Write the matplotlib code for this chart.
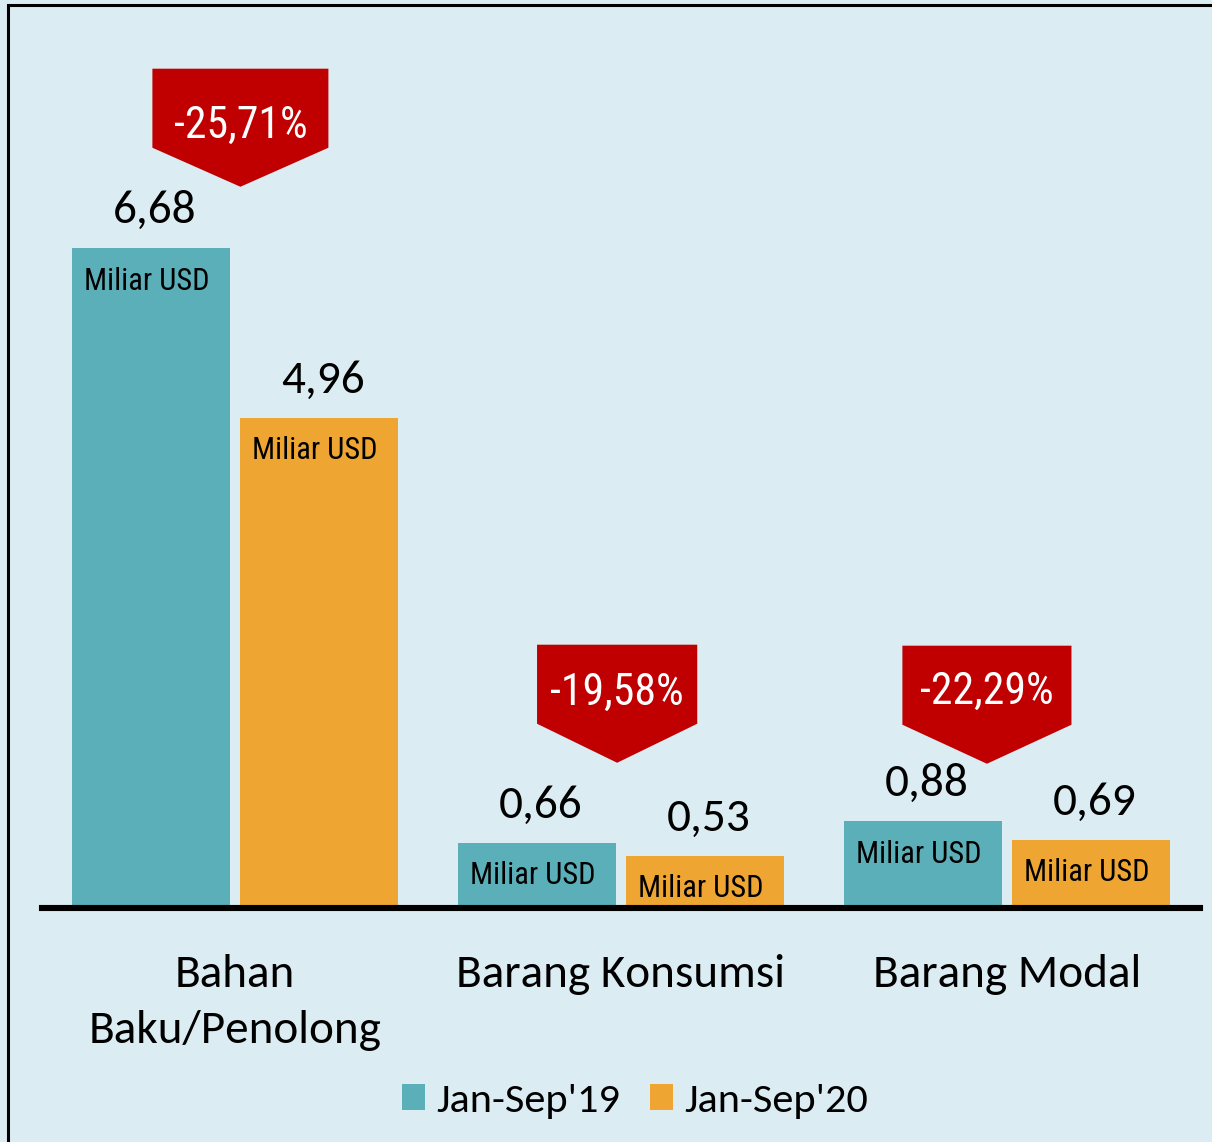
import matplotlib
matplotlib.use("Agg")
import matplotlib.pyplot as plt
from matplotlib.patches import Polygon, Rectangle, Patch

categories = ["Bahan\nBaku/Penolong", "Barang Konsumsi", "Barang Modal"]
series_names = ["Jan-Sep'19", "Jan-Sep'20"]
values_2019 = [6.68, 0.66, 0.88]
values_2020 = [4.96, 0.53, 0.69]
changes = ["-25,71%", "-19,58%", "-22,29%"]
unit_label = "Miliar USD"

# layout / style
BG = "#DBEDF3"
TEAL = "#5AAFB9"
ORANGE = "#EEA532"
RED = "#C00000"
W, H = 1212, 1142
DPI = 100
bar_w = 0.407
offset = 0.2176
callout_dx = [0.014, -0.010, -0.052]
callout_w = [0.456, 0.415, 0.438]
callout_tip = [7.30, 1.47, 1.46]
callout_text_dy = [0.70, 0.61, 0.59]
rect_h = 0.80
arrow_h = 0.395

CAL = ["Carlito", "DejaVu Sans"]
NARROW = ["Roboto Condensed", "DejaVu Sans"]

fig = plt.figure(figsize=(W / DPI, H / DPI), dpi=DPI)
fig.patch.set_facecolor(BG)
fig.patches.append(Rectangle((8 / W, -0.1), 1.2, 1 - 5 / H + 0.1, transform=fig.transFigure,
                             fill=False, edgecolor="black", linewidth=2.2, zorder=0))

ax = fig.add_axes([42 / W, (H - 908) / H, 1158 / W, (908 - 5) / H])
ax.set_facecolor("none")
ax.set_xlim(-0.5, 2.5)
ax.set_ylim(0, 903 / 98.8)
for s in ax.spines.values():
    s.set_visible(False)
ax.set_yticks([])

x = list(range(len(categories)))
xs1 = [i - offset for i in x]
xs2 = [i + offset for i in x]
ax.bar(xs1, values_2019, width=bar_w, color=TEAL, zorder=2)
ax.bar(xs2, values_2020, width=bar_w, color=ORANGE, zorder=2)
ax.axhline(0, color="black", linewidth=4.4, zorder=3, clip_on=False)

for xs, vals in ((xs1, values_2019), (xs2, values_2020)):
    for xi, v in zip(xs, vals):
        ax.text(xi + 0.01, v + 0.25, f"{v:.2f}".replace(".", ","), ha="center", va="baseline",
                fontsize=34, family=CAL, color="black")
        ax.text(xi - 0.01, v - 0.42, unit_label, ha="center", va="baseline",
                fontsize=22, family=NARROW, color="black", zorder=4)

for i, txt in enumerate(changes):
    cx = i + callout_dx[i]
    hw = callout_w[i] / 2
    tip = callout_tip[i]
    rb = tip + arrow_h
    top = rb + rect_h
    poly = Polygon([(cx - hw, top), (cx + hw, top), (cx + hw, rb), (cx, tip), (cx - hw, rb)],
                   closed=True, facecolor=RED, edgecolor="none", zorder=5, clip_on=False)
    ax.add_patch(poly)
    ax.text(cx, top - callout_text_dy[i], txt, ha="center", va="baseline", fontsize=31.5,
            family=NARROW, color="white", zorder=6)

ax.set_xticks(x)
ax.set_xticklabels(categories, family=CAL, fontsize=34, linespacing=1.46)
ax.tick_params(axis="x", length=0, pad=33)

handles = [Patch(facecolor=TEAL, edgecolor="none"), Patch(facecolor=ORANGE, edgecolor="none")]
fig.legend(handles, series_names, loc="center", bbox_to_anchor=(635 / W, 1 - 1101 / H),
           ncol=2, frameon=False, prop={"family": CAL, "size": 30.5}, handlelength=0.54,
           handleheight=0.54, handletextpad=0.26, columnspacing=0.72)

fig.savefig("out.png", dpi=DPI, facecolor=BG)
